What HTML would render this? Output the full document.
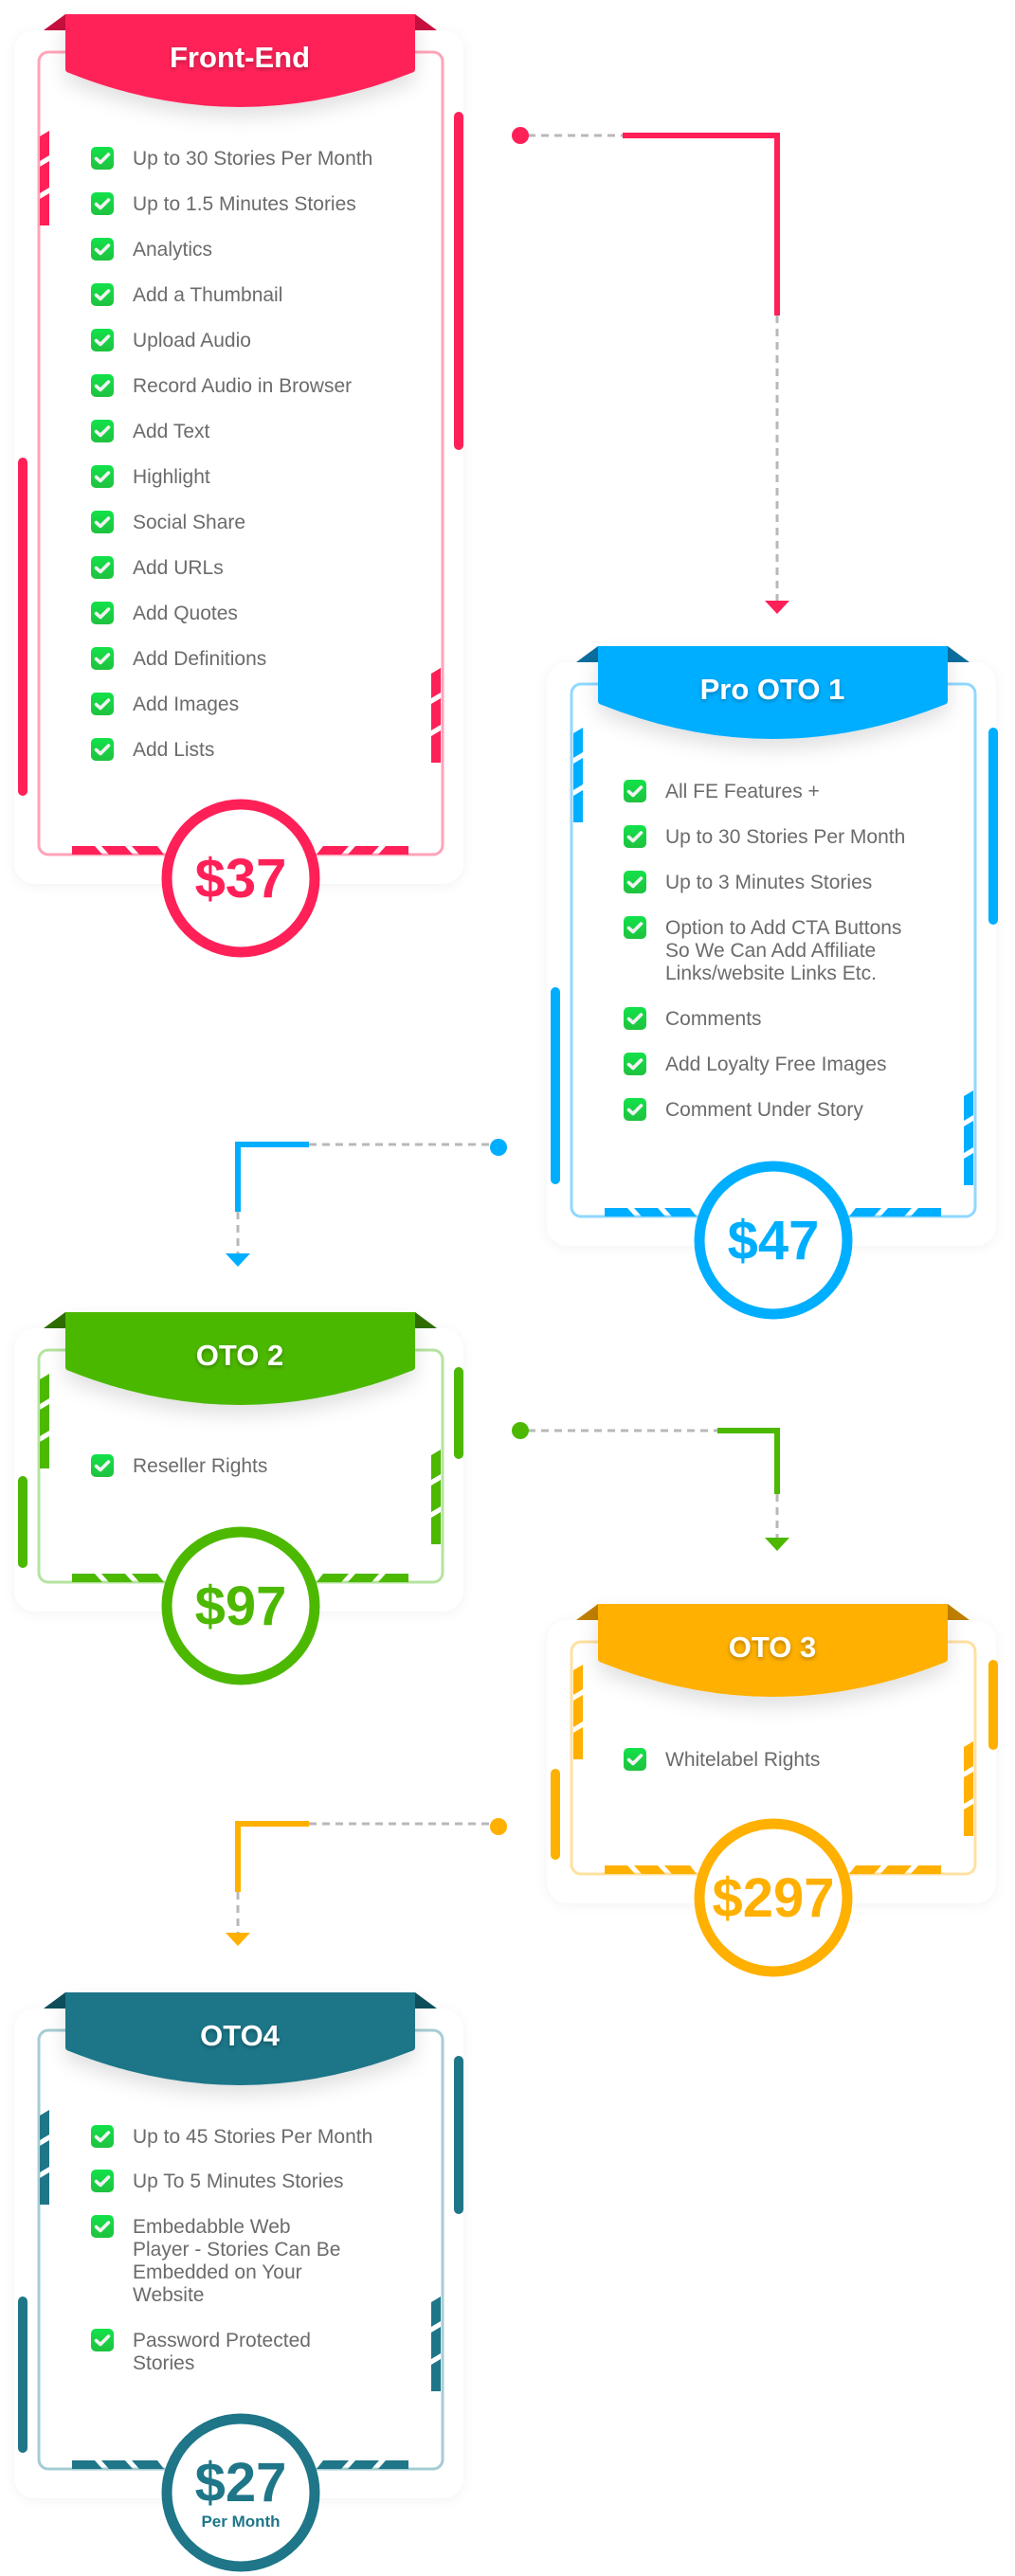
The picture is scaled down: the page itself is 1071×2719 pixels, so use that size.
<!DOCTYPE html>
<html><head><meta charset="utf-8"><style>
html,body{margin:0;padding:0;background:#fff;}
svg{display:block;}
.it{font-family:"Liberation Sans",sans-serif;font-size:21px;fill:#6b6b6b;}
.ti{font-family:"Liberation Sans",sans-serif;font-size:31px;font-weight:bold;fill:#fff;text-anchor:middle;}
.pr{font-family:"Liberation Sans",sans-serif;font-size:58px;font-weight:bold;text-anchor:middle;}
</style></head><body>
<svg width="1071" height="2719" viewBox="0 0 1071 2719" xmlns="http://www.w3.org/2000/svg">
<defs>
<filter id="ps" x="-10%" y="-10%" width="120%" height="120%"><feDropShadow dx="0" dy="2" stdDeviation="6" flood-color="#000" flood-opacity="0.05"/></filter>
<filter id="rs" x="-20%" y="-30%" width="140%" height="190%"><feDropShadow dx="0" dy="10" stdDeviation="10" flood-color="#000" flood-opacity="0.12"/></filter>
<filter id="ts" x="-10%" y="-30%" width="120%" height="160%"><feDropShadow dx="0" dy="2" stdDeviation="2" flood-color="#000" flood-opacity="0.3"/></filter>
<linearGradient id="cg" x1="0" y1="0" x2="0" y2="1"><stop offset="0" stop-color="#12e24a"/><stop offset="1" stop-color="#1fc23e"/></linearGradient>
<symbol id="cb" viewBox="0 0 24 24" width="24" height="24"><rect x="0" y="0" width="24" height="24" rx="5" fill="url(#cg)"/><path d="M5.5 12.5 L10 16.5 L18.5 8" fill="none" stroke="#f2f2f2" stroke-width="3.6" stroke-linecap="round" stroke-linejoin="round"/></symbol>
<g id="vs"><polygon points="0,6 10,0 10,26 0,32"/><polygon points="0,38 10,32 10,60 0,66"/><polygon points="0,72 10,66 10,100 0,100"/></g>
<g id="hs"><polygon points="0,0 24,0 32,9 0,9"/><polygon points="31,0 56,0 64,9 39,9"/><polygon points="63,0 90,0 97,9 71,9"/></g>
</defs>

<!-- ================= FRONT-END ================= -->
<rect x="15" y="32" width="474" height="901" rx="22" fill="#fff" filter="url(#ps)"/>
<rect x="479" y="118" width="10" height="357" rx="5" fill="#ff2058"/>
<rect x="19" y="483" width="10" height="357" rx="5" fill="#ff2058"/>
<rect x="41" y="55" width="426" height="847" rx="10" fill="#fff" stroke="#ffa3b8" stroke-width="3"/>
<use href="#vs" x="42" y="138" fill="#ff2058"/>
<use href="#vs" x="455" y="705" fill="#ff2058"/>
<g fill="#ff2058"><use href="#hs" transform="translate(76,893)"/><use href="#hs" transform="translate(431,893) scale(-1,1)"/></g>
<polygon points="46,32 69,15 69,32" fill="#c8103f"/><polygon points="438,15 461,32 438,32" fill="#c8103f"/>
<path d="M69,15 H438 V73 Q438,76 434,77 Q253,149 73,77 Q69,76 69,73 Z" fill="#ff2058" filter="url(#rs)"/>
<text class="ti" x="253" y="71" filter="url(#ts)">Front-End</text>
<g>
<use href="#cb" x="96" y="155"/><text class="it" x="140" y="174">Up to 30 Stories Per Month</text>
<use href="#cb" x="96" y="203"/><text class="it" x="140" y="222">Up to 1.5 Minutes Stories</text>
<use href="#cb" x="96" y="251"/><text class="it" x="140" y="270">Analytics</text>
<use href="#cb" x="96" y="299"/><text class="it" x="140" y="318">Add a Thumbnail</text>
<use href="#cb" x="96" y="347"/><text class="it" x="140" y="366">Upload Audio</text>
<use href="#cb" x="96" y="395"/><text class="it" x="140" y="414">Record Audio in Browser</text>
<use href="#cb" x="96" y="443"/><text class="it" x="140" y="462">Add Text</text>
<use href="#cb" x="96" y="491"/><text class="it" x="140" y="510">Highlight</text>
<use href="#cb" x="96" y="539"/><text class="it" x="140" y="558">Social Share</text>
<use href="#cb" x="96" y="587"/><text class="it" x="140" y="606">Add URLs</text>
<use href="#cb" x="96" y="635"/><text class="it" x="140" y="654">Add Quotes</text>
<use href="#cb" x="96" y="683"/><text class="it" x="140" y="702">Add Definitions</text>
<use href="#cb" x="96" y="731"/><text class="it" x="140" y="750">Add Images</text>
<use href="#cb" x="96" y="779"/><text class="it" x="140" y="798">Add Lists</text>
</g>
<circle cx="254" cy="927" r="78" fill="#fff" stroke="#ff2058" stroke-width="11"/>
<text class="pr" x="254" y="947" fill="#ff2058">$37</text>

<!-- connector 1 (red) -->
<line x1="557" y1="143" x2="657" y2="143" stroke="#b8b8b8" stroke-width="3" stroke-dasharray="8,6"/>
<circle cx="549" cy="143" r="9" fill="#ff2058"/>
<polyline points="657,143 820,143 820,333" fill="none" stroke="#ff2058" stroke-width="6"/>
<line x1="820" y1="333" x2="820" y2="634" stroke="#b8b8b8" stroke-width="3" stroke-dasharray="8,6"/>
<polygon points="807,634 833,634 820,648" fill="#ff2058"/>

<!-- ================= PRO OTO 1 ================= -->
<rect x="577" y="699" width="474" height="616" rx="22" fill="#fff" filter="url(#ps)"/>
<rect x="1043" y="768" width="10" height="208" rx="5" fill="#00aeff"/>
<rect x="581" y="1042" width="10" height="208" rx="5" fill="#00aeff"/>
<rect x="603" y="722" width="426" height="562" rx="10" fill="#fff" stroke="#8fd8ff" stroke-width="3"/>
<use href="#vs" x="605" y="768" fill="#00aeff"/>
<use href="#vs" x="1017" y="1151" fill="#00aeff"/>
<g fill="#00aeff"><use href="#hs" transform="translate(638,1275)"/><use href="#hs" transform="translate(993,1275) scale(-1,1)"/></g>
<polygon points="608,699 631,682 631,699" fill="#0a6e9e"/><polygon points="1000,682 1023,699 1000,699" fill="#0a6e9e"/>
<path d="M631,682 H1000 V740 Q1000,743 996,744 Q815,816 635,744 Q631,743 631,740 Z" fill="#00aeff" filter="url(#rs)"/>
<text class="ti" x="815" y="738" filter="url(#ts)">Pro OTO 1</text>
<g>
<use href="#cb" x="658" y="823"/><text class="it" x="702" y="842">All FE Features +</text>
<use href="#cb" x="658" y="871"/><text class="it" x="702" y="890">Up to 30 Stories Per Month</text>
<use href="#cb" x="658" y="919"/><text class="it" x="702" y="938">Up to 3 Minutes Stories</text>
<use href="#cb" x="658" y="967"/><text class="it" x="702" y="986">Option to Add CTA Buttons</text>
<text class="it" x="702" y="1010">So We Can Add Affiliate</text>
<text class="it" x="702" y="1034">Links/website Links Etc.</text>
<use href="#cb" x="658" y="1063"/><text class="it" x="702" y="1082">Comments</text>
<use href="#cb" x="658" y="1111"/><text class="it" x="702" y="1130">Add Loyalty Free Images</text>
<use href="#cb" x="658" y="1159"/><text class="it" x="702" y="1178">Comment Under Story</text>
</g>
<circle cx="816" cy="1309" r="78" fill="#fff" stroke="#00aeff" stroke-width="11"/>
<text class="pr" x="816" y="1329" fill="#00aeff">$47</text>

<!-- connector 2 (blue) -->
<line x1="326" y1="1208" x2="518" y2="1208" stroke="#b8b8b8" stroke-width="3" stroke-dasharray="8,6"/>
<circle cx="526" cy="1211" r="9" fill="#00aeff"/>
<polyline points="326,1208 251,1208 251,1279" fill="none" stroke="#00aeff" stroke-width="6"/>
<line x1="251" y1="1279" x2="251" y2="1323" stroke="#b8b8b8" stroke-width="3" stroke-dasharray="8,6"/>
<polygon points="238,1323 264,1323 251,1337" fill="#00aeff"/>

<!-- ================= OTO 2 ================= -->
<rect x="15" y="1402" width="474" height="299" rx="22" fill="#fff" filter="url(#ps)"/>
<rect x="479" y="1443" width="10" height="97" rx="5" fill="#4cb800"/>
<rect x="19" y="1558" width="10" height="97" rx="5" fill="#4cb800"/>
<rect x="41" y="1425" width="426" height="245" rx="10" fill="#fff" stroke="#b5e3a0" stroke-width="3"/>
<use href="#vs" x="42" y="1450" fill="#4cb800"/>
<use href="#vs" x="455" y="1530" fill="#4cb800"/>
<g fill="#4cb800"><use href="#hs" transform="translate(76,1661)"/><use href="#hs" transform="translate(431,1661) scale(-1,1)"/></g>
<polygon points="46,1402 69,1385 69,1402" fill="#2f6e00"/><polygon points="438,1385 461,1402 438,1402" fill="#2f6e00"/>
<path d="M69,1385 H438 V1443 Q438,1446 434,1447 Q253,1519 73,1447 Q69,1446 69,1443 Z" fill="#4cb800" filter="url(#rs)"/>
<text class="ti" x="253" y="1441" filter="url(#ts)">OTO 2</text>
<use href="#cb" x="96" y="1535"/><text class="it" x="140" y="1554">Reseller Rights</text>
<circle cx="254" cy="1695" r="78" fill="#fff" stroke="#4cb800" stroke-width="11"/>
<text class="pr" x="254" y="1715" fill="#4cb800">$97</text>

<!-- connector 3 (green) -->
<line x1="557" y1="1510" x2="757" y2="1510" stroke="#b8b8b8" stroke-width="3" stroke-dasharray="8,6"/>
<circle cx="549" cy="1510" r="9" fill="#4cb800"/>
<polyline points="757,1510 820,1510 820,1577" fill="none" stroke="#4cb800" stroke-width="6"/>
<line x1="820" y1="1577" x2="820" y2="1623" stroke="#b8b8b8" stroke-width="3" stroke-dasharray="8,6"/>
<polygon points="807,1623 833,1623 820,1637" fill="#4cb800"/>

<!-- ================= OTO 3 ================= -->
<rect x="577" y="1710" width="474" height="299" rx="22" fill="#fff" filter="url(#ps)"/>
<rect x="1043" y="1752" width="10" height="95" rx="5" fill="#ffb000"/>
<rect x="581" y="1867" width="10" height="96" rx="5" fill="#ffb000"/>
<rect x="603" y="1733" width="426" height="245" rx="10" fill="#fff" stroke="#ffe0a0" stroke-width="3"/>
<use href="#vs" x="605" y="1757" fill="#ffb000"/>
<use href="#vs" x="1017" y="1838" fill="#ffb000"/>
<g fill="#ffb000"><use href="#hs" transform="translate(638,1969)"/><use href="#hs" transform="translate(993,1969) scale(-1,1)"/></g>
<polygon points="608,1710 631,1693 631,1710" fill="#c08000"/><polygon points="1000,1693 1023,1710 1000,1710" fill="#c08000"/>
<path d="M631,1693 H1000 V1751 Q1000,1754 996,1755 Q815,1827 635,1755 Q631,1754 631,1751 Z" fill="#ffb000" filter="url(#rs)"/>
<text class="ti" x="815" y="1749" filter="url(#ts)">OTO 3</text>
<use href="#cb" x="658" y="1845"/><text class="it" x="702" y="1864">Whitelabel Rights</text>
<circle cx="816" cy="2003" r="78" fill="#fff" stroke="#ffb000" stroke-width="11"/>
<text class="pr" x="816" y="2023" fill="#ffb000">$297</text>

<!-- connector 4 (orange) -->
<line x1="326" y1="1925" x2="518" y2="1925" stroke="#b8b8b8" stroke-width="3" stroke-dasharray="8,6"/>
<circle cx="526" cy="1928" r="9" fill="#ffb000"/>
<polyline points="326,1925 251,1925 251,1997" fill="none" stroke="#ffb000" stroke-width="6"/>
<line x1="251" y1="1997" x2="251" y2="2040" stroke="#b8b8b8" stroke-width="3" stroke-dasharray="8,6"/>
<polygon points="238,2040 264,2040 251,2054" fill="#ffb000"/>

<!-- ================= OTO4 ================= -->
<rect x="15" y="2120" width="474" height="517" rx="22" fill="#fff" filter="url(#ps)"/>
<rect x="479" y="2170" width="10" height="167" rx="5" fill="#1e7688"/>
<rect x="19" y="2424" width="10" height="165" rx="5" fill="#1e7688"/>
<rect x="41" y="2143" width="426" height="463" rx="10" fill="#fff" stroke="#a5ccd4" stroke-width="3"/>
<use href="#vs" x="42" y="2227" fill="#1e7688"/>
<use href="#vs" x="455" y="2424" fill="#1e7688"/>
<g fill="#1e7688"><use href="#hs" transform="translate(76,2597)"/><use href="#hs" transform="translate(431,2597) scale(-1,1)"/></g>
<polygon points="46,2120 69,2103 69,2120" fill="#0e4f5c"/><polygon points="438,2103 461,2120 438,2120" fill="#0e4f5c"/>
<path d="M69,2103 H438 V2161 Q438,2164 434,2165 Q253,2237 73,2165 Q69,2164 69,2161 Z" fill="#1e7688" filter="url(#rs)"/>
<text class="ti" x="253" y="2159" filter="url(#ts)">OTO4</text>
<g>
<use href="#cb" x="96" y="2243"/><text class="it" x="140" y="2262">Up to 45 Stories Per Month</text>
<use href="#cb" x="96" y="2290"/><text class="it" x="140" y="2309">Up To 5 Minutes Stories</text>
<use href="#cb" x="96" y="2338"/><text class="it" x="140" y="2357">Embedabble Web</text>
<text class="it" x="140" y="2381">Player - Stories Can Be</text>
<text class="it" x="140" y="2405">Embedded on Your</text>
<text class="it" x="140" y="2429">Website</text>
<use href="#cb" x="96" y="2458"/><text class="it" x="140" y="2477">Password Protected</text>
<text class="it" x="140" y="2501">Stories</text>
</g>
<circle cx="254" cy="2631" r="78" fill="#fff" stroke="#1e7688" stroke-width="11"/>
<text class="pr" x="254" y="2640" fill="#1e7688">$27</text>
<text x="254" y="2667" fill="#1e7688" text-anchor="middle" style="font-family:'Liberation Sans',sans-serif;font-size:17px;font-weight:bold;">Per Month</text>
</svg>
</body></html>
